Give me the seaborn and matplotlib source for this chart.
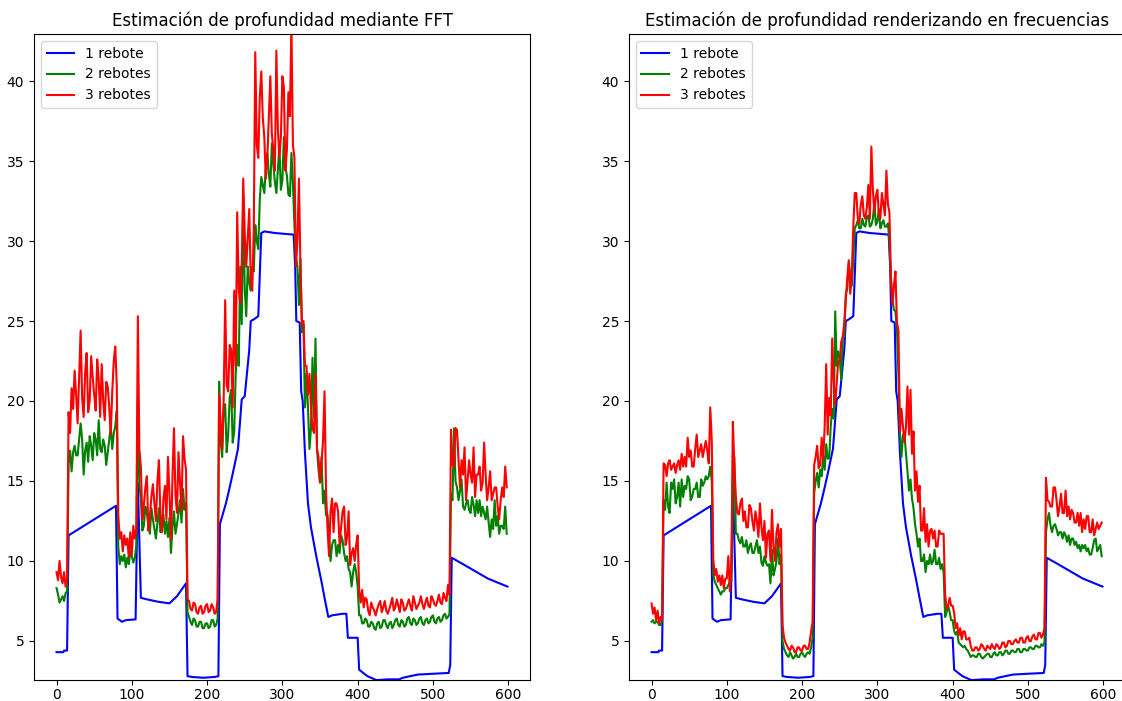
import numpy as np
import matplotlib
matplotlib.use("Agg")
import matplotlib.pyplot as plt
import seaborn as sns

# ---------------- data ----------------
titles = ["Estimación de profundidad mediante FFT",
          "Estimación de profundidad renderizando en frecuencias"]
labels = ["1 rebote", "2 rebotes", "3 rebotes"]

# sample positions of the noisy series (every 2nd frame)
x_noisy = np.arange(0, 600, 2)

# 1 rebote (same curve in both panels), vertices of the line
blue_x = [0, 9, 10, 14, 16, 79, 81, 87, 92, 105, 108, 112, 120, 135, 150, 160, 172,
          174, 180, 195, 210, 215, 217, 225, 230, 234, 241, 246, 250, 256, 258, 262,
          268, 272, 276, 290, 315, 317, 318.5, 323, 325, 327, 330, 334, 338, 345, 352,
          356, 361, 366, 380, 385, 387, 400, 402, 413, 425, 440, 455, 460, 480, 500,
          521, 523, 525, 540, 551, 573, 599]
blue_y = [4.3, 4.3, 4.4, 4.4, 11.6, 13.45, 6.4, 6.2, 6.3, 6.35, 14.9, 7.7, 7.6, 7.45,
          7.35, 7.8, 8.6, 2.8, 2.75, 2.7, 2.75, 2.8, 12.3, 13.6, 14.6, 15.45, 17.0, 20.1,
          20.3, 23.2, 25.0, 25.1, 25.3, 30.5, 30.6, 30.5, 30.4, 28.4, 25.0, 24.9, 20.6,
          20.0, 16.75, 13.6, 12.1, 10.3, 8.7, 7.7, 6.5, 6.6, 6.7, 6.7, 5.2, 5.2, 3.2,
          2.8, 2.55, 2.6, 2.6, 2.7, 2.9, 2.95, 3.0, 3.5, 10.2, 9.8, 9.5, 8.9, 8.4]

# FFT panel: 2 and 3 rebotes
fft_green = [
    8.3, 7.9, 7.4, 7.6, 7.8, 7.5, 8.0, 8.1, 16.1, 16.9, 15.6, 16.8, 17.2, 16.6, 16.6, 17.6, 18.6, 17.6, 15.4, 16.9,
    17.4, 16.2, 17.8, 17.2, 16.3, 18.0, 17.6, 16.6, 18.8, 17.0, 16.8, 17.6, 17.2, 16.0, 16.8, 17.6, 18.4, 17.0, 18.0, 18.4,
    19.4, 10.9, 9.8, 10.3, 10.0, 10.4, 9.6, 10.2, 9.8, 10.6, 10.3, 9.9, 10.2, 11.0, 20.0, 14.8, 13.9, 11.9, 12.2, 13.4,
    13.0, 12.2, 11.7, 13.3, 12.6, 12.0, 11.4, 12.4, 13.3, 11.8, 12.0, 12.9, 11.7, 12.5, 11.5, 12.7, 10.5, 12.1, 13.1, 11.7,
    12.3, 13.0, 13.8, 12.4, 14.5, 13.2, 13.6, 6.8, 6.5, 6.2, 6.0, 6.4, 6.3, 5.9, 5.9, 6.2, 6.2, 5.8, 5.8, 6.1,
    6.1, 5.8, 5.9, 6.3, 6.3, 5.9, 6.0, 6.4, 21.2, 17.5, 16.5, 19.6, 19.8, 16.8, 17.9, 20.2, 20.7, 17.4, 18.1, 21.7,
    23.5, 22.2, 28.4, 24.8, 32.8, 27.0, 25.3, 28.4, 27.4, 26.9, 28.4, 28.1, 31.0, 30.0, 29.5, 32.6, 34.0, 33.5, 33.0, 34.6,
    35.5, 34.2, 33.4, 36.1, 34.8, 33.7, 33.0, 34.4, 35.9, 33.2, 33.8, 36.5, 34.6, 34.1, 32.9, 32.8, 35.5, 33.6, 31.0, 29.0,
    28.4, 26.0, 28.9, 24.3, 24.8, 19.6, 21.7, 19.6, 17.0, 18.3, 22.7, 19.0, 23.9, 17.0, 15.7, 14.9, 16.5, 13.6, 14.4, 12.85,
    12.9, 11.5, 10.0, 11.0, 11.3, 11.3, 10.3, 11.0, 10.5, 11.6, 11.3, 10.5, 10.0, 10.3, 9.5, 9.3, 8.4, 9.3, 9.8, 9.3,
    8.4, 6.6, 6.6, 6.1, 6.1, 6.4, 6.3, 5.9, 5.9, 6.2, 6.1, 5.8, 5.7, 6.1, 6.2, 5.8, 5.9, 6.3, 6.3, 6.0,
    5.8, 6.1, 6.2, 5.8, 6.0, 6.3, 6.4, 6.0, 5.9, 6.3, 6.2, 5.9, 6.0, 6.4, 6.5, 6.1, 6.0, 6.4, 6.3, 6.0,
    6.1, 6.4, 6.5, 6.1, 6.0, 6.3, 6.4, 6.1, 6.2, 6.5, 6.6, 6.2, 6.1, 6.4, 6.5, 6.2, 6.3, 6.6, 6.7, 6.4,
    6.5, 6.7, 14.2, 13.8, 18.3, 15.0, 14.6, 13.8, 14.4, 15.1, 13.4, 13.2, 13.6, 13.8, 13.2, 13.0, 14.0, 13.5, 12.8, 13.8,
    13.0, 13.8, 12.8, 13.4, 13.0, 12.6, 13.4, 12.4, 11.5, 12.6, 12.0, 13.8, 12.2, 12.8, 11.7, 12.2, 12.2, 12.0, 13.4, 11.7]
fft_red = [
    9.3, 8.8, 10.0, 9.0, 8.6, 9.3, 8.4, 8.9, 19.3, 18.0, 20.8, 19.5, 21.9, 20.4, 18.6, 21.5, 24.4, 20.2, 19.0, 21.8,
    23.0, 19.3, 20.0, 22.8, 21.5, 20.4, 19.4, 22.6, 21.4, 19.0, 22.3, 20.0, 18.8, 21.2, 20.9, 19.6, 17.9, 20.6, 22.5, 23.4,
    21.0, 12.9, 11.4, 11.8, 10.6, 11.6, 11.0, 11.4, 10.2, 11.8, 10.4, 12.2, 11.4, 12.0, 25.3, 17.0, 15.9, 12.6, 13.5, 14.6,
    15.3, 11.9, 12.8, 14.0, 14.8, 13.6, 12.5, 15.0, 16.3, 12.8, 11.8, 13.9, 14.7, 12.6, 16.5, 14.2, 11.3, 15.2, 18.3, 14.1,
    13.0, 16.8, 14.9, 13.2, 17.8, 16.4, 15.7, 7.6, 7.5, 7.0, 6.9, 7.4, 7.3, 6.8, 6.7, 7.1, 7.2, 6.7, 6.8, 7.2,
    7.3, 6.8, 6.9, 7.3, 7.1, 6.7, 6.8, 7.6, 20.4, 18.6, 17.0, 20.1, 26.3, 21.0, 20.6, 23.5, 23.2, 19.6, 26.9, 22.2,
    31.8, 27.0, 26.1, 28.4, 33.9, 30.5, 28.4, 30.2, 32.0, 27.5, 26.9, 30.8, 41.8, 36.0, 35.2, 39.0, 40.6, 37.7, 36.5, 33.9,
    35.2, 37.8, 40.3, 36.7, 35.7, 34.4, 41.9, 37.0, 35.2, 36.5, 40.3, 39.6, 34.4, 35.7, 39.3, 37.8, 43.5, 36.0, 35.2, 28.4,
    30.0, 33.9, 28.4, 24.8, 25.0, 22.2, 22.2, 20.4, 21.7, 19.6, 18.3, 18.0, 21.7, 17.0, 16.5, 14.9, 16.2, 17.5, 20.6, 14.4,
    12.0, 10.3, 13.1, 13.9, 11.8, 13.6, 13.6, 13.1, 11.0, 12.1, 13.1, 13.4, 11.0, 11.5, 13.1, 9.75, 10.5, 10.8, 10.0, 11.0,
    11.6, 8.2, 7.4, 8.2, 7.1, 7.7, 7.6, 6.9, 6.6, 7.4, 7.1, 6.9, 6.6, 7.0, 7.3, 7.5, 6.8, 7.1, 7.5, 6.9,
    6.7, 7.0, 7.3, 7.7, 6.9, 7.1, 7.6, 7.2, 6.8, 7.6, 7.4, 6.9, 7.0, 7.3, 7.6, 7.2, 6.9, 7.8, 7.4, 7.0,
    7.2, 7.4, 7.8, 7.3, 7.0, 7.4, 7.7, 7.2, 7.1, 7.8, 7.6, 7.3, 7.2, 7.5, 7.9, 7.4, 7.3, 8.0, 7.7, 7.5,
    8.5, 7.9, 18.2, 16.0, 15.9, 18.3, 18.2, 16.3, 14.6, 16.3, 15.4, 17.1, 13.8, 15.0, 16.3, 15.4, 14.9, 17.1, 14.0, 15.4,
    15.4, 15.9, 14.4, 14.9, 17.4, 15.4, 13.8, 14.6, 15.6, 13.8, 14.2, 14.6, 14.6, 13.4, 12.6, 13.8, 14.6, 14.0, 15.9, 14.6]

# frequency-rendering panel: 2 and 3 rebotes
freq_green = [
    6.2, 6.3, 6.1, 6.2, 6.2, 6.0, 6.0, 6.3, 13.8, 13.2, 14.9, 13.4, 13.0, 14.9, 14.5, 15.1, 13.6, 14.0, 14.9, 13.4,
    15.1, 14.0, 14.7, 14.5, 15.3, 15.1, 13.8, 14.0, 14.5, 14.5, 14.9, 14.0, 14.0, 15.1, 14.7, 14.9, 15.3, 15.1, 15.3, 15.9,
    15.0, 9.1, 8.7, 8.5, 8.3, 8.1, 7.9, 8.1, 8.1, 8.3, 8.3, 8.5, 8.7, 8.7, 14.0, 16.5, 11.7, 11.7, 11.3, 11.1,
    11.5, 10.9, 10.9, 11.3, 10.5, 10.9, 11.1, 10.5, 10.5, 10.9, 11.3, 10.5, 10.9, 9.9, 9.7, 10.3, 9.9, 9.7, 9.8, 8.6,
    10.7, 9.1, 9.5, 10.0, 11.4, 9.8, 10.4, 5.0, 4.5, 4.3, 4.1, 4.0, 4.3, 4.1, 3.9, 4.0, 4.2, 4.0, 4.0, 4.2,
    4.3, 4.1, 4.0, 4.2, 4.3, 4.2, 4.6, 5.2, 14.2, 15.0, 15.5, 14.6, 15.7, 15.3, 16.6, 15.7, 17.3, 16.4, 16.4, 18.4,
    19.5, 18.9, 25.6, 22.2, 23.1, 22.7, 21.3, 24.0, 24.0, 26.7, 27.0, 28.6, 27.9, 27.2, 29.0, 30.8, 31.0, 31.3, 30.8, 30.8,
    31.4, 31.0, 30.9, 31.5, 31.6, 30.9, 31.0, 31.4, 32.4, 31.0, 31.2, 32.0, 30.8, 31.1, 31.3, 30.9, 30.9, 31.1, 30.0, 27.7,
    26.3, 25.7, 25.6, 24.5, 21.6, 17.9, 16.5, 17.9, 17.9, 16.7, 15.6, 14.4, 15.1, 13.9, 13.3, 12.3, 11.7, 10.9, 11.4, 10.0,
    10.0, 10.4, 9.3, 10.0, 9.8, 10.4, 9.8, 10.0, 10.7, 9.8, 9.8, 10.2, 9.5, 9.8, 9.3, 6.5, 6.8, 7.2, 6.8, 6.3,
    6.3, 5.6, 5.4, 5.6, 4.9, 4.8, 4.7, 4.6, 4.7, 4.5, 4.4, 4.2, 4.0, 4.1, 4.1, 4.0, 4.0, 4.2, 4.2, 4.0,
    3.9, 4.0, 4.1, 4.2, 4.2, 4.0, 4.0, 4.2, 4.3, 4.1, 4.1, 4.3, 4.3, 4.1, 4.2, 4.4, 4.4, 4.2, 4.2, 4.4,
    4.4, 4.3, 4.3, 4.5, 4.5, 4.3, 4.3, 4.5, 4.5, 4.4, 4.4, 4.6, 4.6, 4.5, 4.5, 4.7, 4.7, 4.6, 4.6, 4.8,
    4.7, 4.9, 11.8, 12.6, 13.0, 12.2, 11.8, 12.2, 12.3, 12.0, 11.6, 11.8, 11.8, 11.4, 11.8, 11.6, 11.2, 11.6, 11.0, 11.4,
    11.4, 11.0, 11.2, 10.8, 11.0, 10.6, 11.0, 10.8, 11.0, 10.6, 10.8, 10.4, 10.4, 10.8, 11.3, 11.4, 10.6, 10.8, 11.0, 10.3]
freq_red = [
    7.35, 6.7, 7.1, 6.3, 6.9, 6.1, 6.5, 6.3, 16.1, 16.0, 15.3, 16.1, 16.3, 15.7, 15.9, 16.1, 15.5, 16.0, 16.3, 15.7,
    16.7, 15.9, 16.5, 15.9, 17.7, 16.5, 16.9, 15.9, 15.9, 17.0, 17.9, 16.5, 16.9, 17.3, 16.5, 17.0, 17.5, 16.9, 16.1, 19.6,
    17.5, 10.1, 9.1, 9.5, 8.7, 9.1, 8.5, 9.1, 8.3, 8.9, 8.9, 10.3, 8.1, 9.5, 18.7, 16.0, 14.0, 13.0, 12.9, 13.6,
    13.9, 12.5, 13.1, 12.1, 12.1, 13.5, 13.3, 12.5, 11.9, 13.1, 12.5, 11.5, 13.6, 12.1, 11.3, 12.5, 10.2, 11.7, 11.9, 10.0,
    13.2, 10.9, 10.0, 11.8, 12.3, 10.9, 12.0, 6.0, 5.2, 4.9, 4.7, 4.5, 4.4, 4.7, 4.6, 4.3, 4.3, 4.6, 4.6, 4.4,
    4.4, 4.7, 4.7, 4.5, 4.5, 4.9, 5.6, 6.2, 16.0, 16.5, 17.2, 15.8, 16.0, 17.7, 16.3, 18.4, 22.3, 17.9, 20.2, 19.1,
    23.9, 21.2, 19.8, 21.2, 22.5, 22.5, 23.7, 24.0, 24.9, 26.3, 27.7, 28.8, 26.7, 27.9, 30.9, 33.0, 33.0, 31.4, 31.1, 32.3,
    32.8, 31.6, 31.4, 32.1, 33.5, 31.4, 35.9, 33.2, 31.8, 32.8, 33.2, 31.6, 31.4, 33.0, 32.3, 31.6, 34.4, 32.3, 31.8, 27.7,
    26.0, 27.2, 28.1, 24.9, 24.4, 18.1, 19.5, 18.4, 17.4, 18.4, 20.9, 17.9, 20.7, 16.7, 18.1, 14.4, 15.6, 13.7, 14.7, 11.9,
    11.9, 13.3, 11.2, 12.3, 10.9, 11.9, 12.0, 11.4, 11.9, 10.9, 10.9, 11.9, 11.7, 11.7, 11.7, 7.9, 7.0, 7.2, 7.7, 7.2,
    7.2, 6.75, 5.8, 6.1, 5.35, 5.8, 5.1, 5.6, 5.6, 5.1, 5.1, 5.2, 4.7, 4.4, 4.4, 4.6, 4.6, 4.4, 4.5, 4.8,
    4.7, 4.5, 4.4, 4.7, 4.6, 4.5, 4.8, 4.6, 4.5, 4.8, 4.7, 4.5, 4.6, 4.9, 4.9, 4.6, 4.7, 5.0, 5.0, 4.8,
    4.8, 5.0, 5.1, 4.9, 4.9, 5.2, 5.2, 4.9, 4.9, 5.2, 5.3, 5.0, 5.0, 5.3, 5.4, 5.1, 5.1, 5.5, 5.5, 5.2,
    5.4, 5.8, 15.2, 13.8, 13.7, 13.4, 13.4, 14.6, 14.6, 13.8, 12.8, 13.4, 14.2, 13.0, 13.0, 14.4, 12.8, 13.4, 12.6, 13.2,
    13.0, 12.4, 12.4, 13.0, 12.2, 13.0, 11.8, 12.6, 12.0, 12.8, 12.8, 11.8, 11.8, 12.6, 11.6, 12.0, 12.4, 12.0, 12.2, 12.4]

panels = [(fft_green, fft_red), (freq_green, freq_red)]
colors = ["blue", "green", "red"]

# ---------------- figure ----------------
plt.rcParams["xtick.major.pad"] = 2.5
W, H = 1122, 701
fig = plt.figure(figsize=(W / 100, H / 100), dpi=100)
ax_left = fig.add_axes([34 / W, (H - 680) / H, 496 / W, 646 / H])
ax_right = fig.add_axes([629 / W, (H - 680) / H, 496 / W, 646 / H])

for ax, title, (g, r) in zip([ax_left, ax_right], titles, panels):
    sns.lineplot(x=blue_x, y=blue_y, ax=ax, color=colors[0], label=labels[0],
                 linewidth=1.5, legend=False)
    sns.lineplot(x=x_noisy, y=g, ax=ax, color=colors[1], label=labels[1],
                 linewidth=1.5, legend=False)
    sns.lineplot(x=x_noisy, y=r, ax=ax, color=colors[2], label=labels[2],
                 linewidth=1.5, legend=False)
    ax.set_xlim(-29.95, 628.95)
    ax.set_ylim(2.56, 42.94)
    ax.set_xticks([0, 100, 200, 300, 400, 500, 600])
    ax.set_yticks([5, 10, 15, 20, 25, 30, 35, 40])
    ax.set_title(title, fontsize=12)
    ax.set_xlabel("")
    ax.set_ylabel("")
    ax.legend(loc="upper left", fontsize=10)

fig.savefig("out.png", dpi=100)
